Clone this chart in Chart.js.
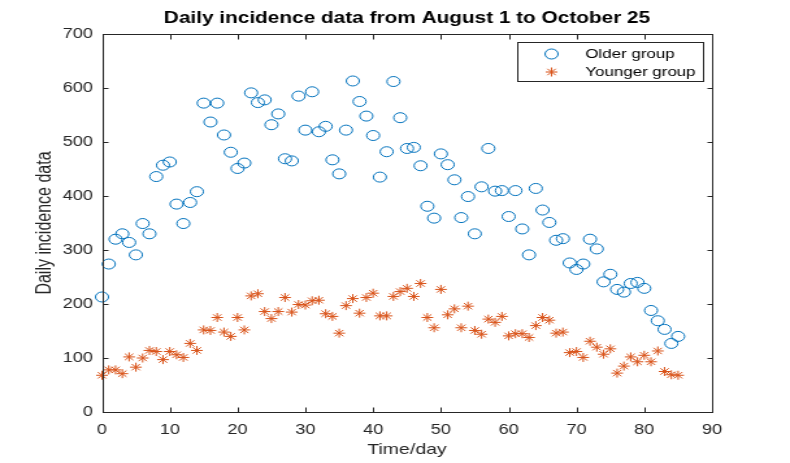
<!DOCTYPE html>
<html>
<head>
<meta charset="utf-8">
<script src="https://cdn.jsdelivr.net/npm/chart.js@4/dist/chart.umd.min.js"></script>
<style>
  html, body { margin: 0; padding: 0; background: #fff; overflow: hidden; }
  #wrap { width: 608px; height: 463px; transform: scaleX(1.2993); transform-origin: 0 0; }
</style>
</head>
<body>
<div id="wrap"><canvas id="incidenceChart" width="608" height="463"></canvas></div>
<script>
// days since August 1
const days = [0,1,2,3,4,5,6,7,8,9,10,11,12,13,14,15,16,17,18,19,20,21,22,23,24,25,26,27,28,29,
  30,31,32,33,34,35,36,37,38,39,40,41,42,43,44,45,46,47,48,49,50,51,52,53,54,55,56,57,58,59,
  60,61,62,63,64,65,66,67,68,69,70,71,72,73,74,75,76,77,78,79,80,81,82,83,84,85];

const olderGroup = [213,274,320,330,314,291,349,330,436,457,
  463,385,349,388,408,572,537,572,513,481,
  451,461,591,573,578,532,552,469,465,585,
  522,593,519,529,467,441,522,613,575,548,
  512,435,482,612,545,488,490,456,381,359,
  478,458,430,360,399,330,417,488,409,410,
  362,410,339,291,414,374,351,318,321,276,
  264,274,320,302,241,255,227,222,238,240,
  229,188,169,153,127,140];

const youngerGroup = [68,78,78,71,102,83,100,114,112,97,
  112,106,101,127,114,152,151,175,148,140,
  175,152,215,219,186,173,186,212,185,199,
  198,206,207,182,177,146,197,210,183,212,
  220,178,178,214,223,229,214,238,175,156,
  227,180,191,156,196,151,144,172,166,177,
  141,145,145,138,160,175,170,146,148,110,
  112,101,131,120,107,117,72,85,102,93,
  105,93,113,75,69,68];

const seriesNames = ['Older group', 'Younger group'];
const xTicks = [0, 10, 20, 30, 40, 50, 60, 70, 80, 90];
const yTicks = [0, 100, 200, 300, 400, 500, 600, 700];
const chartTitle = 'Daily incidence data from August 1 to October 25';

const FONT = "'Liberation Sans', Arial, Helvetica, sans-serif";
const AXIS = '#262626';
const BLUE = '#0072BD';
const ORANGE = '#D95319';

const toPoints = vals => vals.map((v, i) => ({ x: days[i], y: v }));

// box, inward ticks on all four sides, title and legend, MATLAB style
const axesBox = {
  id: 'axesBox',
  afterDraw(chart) {
    const { ctx, chartArea: a, scales: { x, y } } = chart;
    const L = Math.round(a.left) + 0.5, R = Math.round(a.right) + 0.5;
    const T = Math.round(a.top) + 0.5, B = Math.round(a.bottom) + 0.5;
    ctx.save();
    ctx.strokeStyle = AXIS;
    ctx.lineWidth = 1;
    ctx.strokeRect(L, T, R - L, B - T);
    ctx.beginPath();
    x.ticks.forEach(t => {
      const px = Math.round(x.getPixelForValue(t.value)) + 0.5;
      ctx.moveTo(px, B); ctx.lineTo(px, B - 5);
      ctx.moveTo(px, T); ctx.lineTo(px, T + 5);
    });
    y.ticks.forEach(t => {
      const py = Math.round(y.getPixelForValue(t.value)) + 0.5;
      ctx.moveTo(L, py); ctx.lineTo(L + 4, py);
      ctx.moveTo(R, py); ctx.lineTo(R - 4, py);
    });
    ctx.stroke();

    // title
    ctx.fillStyle = '#000';
    ctx.font = 'bold 16px ' + FONT;
    ctx.textAlign = 'center';
    ctx.textBaseline = 'middle';
    ctx.fillText(chartTitle, (a.left + a.right) / 2, 19);

    // legend
    const bx = Math.round(a.right) - 149.5, by = 42.5, bw = 143, bh = 39;
    ctx.fillStyle = '#fff';
    ctx.fillRect(bx, by, bw, bh);
    ctx.strokeStyle = AXIS;
    ctx.strokeRect(bx, by, bw, bh);
    const rows = [
      { label: seriesNames[0], color: BLUE, style: 'circle', r: 5, y: 54 },
      { label: seriesNames[1], color: ORANGE, style: 'star', r: 4.5, y: 72 }
    ];
    rows.forEach(row => {
      ctx.strokeStyle = row.color;
      ctx.fillStyle = 'rgba(0,0,0,0)';
      ctx.lineWidth = 1;
      Chart.helpers.drawPoint(ctx, { pointStyle: row.style, radius: row.r, borderWidth: 1, rotation: 0 }, bx + 26, row.y);
      ctx.fillStyle = '#000';
      ctx.font = '13px ' + FONT;
      ctx.textAlign = 'left';
      ctx.textBaseline = 'middle';
      ctx.fillText(row.label, bx + 52, row.y);
    });
    ctx.restore();
  }
};

const ctx = document.getElementById('incidenceChart').getContext('2d');

new Chart(ctx, {
  type: 'scatter',
  data: {
    datasets: [
      {
        label: seriesNames[0],
        data: toPoints(olderGroup),
        pointStyle: 'circle',
        pointRadius: 5,
        pointBorderWidth: 1,
        borderColor: BLUE,
        backgroundColor: 'rgba(0,0,0,0)',
        clip: false
      },
      {
        label: seriesNames[1],
        data: toPoints(youngerGroup),
        pointStyle: 'star',
        pointRadius: 4.5,
        pointBorderWidth: 1,
        borderColor: ORANGE,
        backgroundColor: ORANGE,
        clip: false
      }
    ]
  },
  options: {
    responsive: false,
    animation: false,
    layout: { padding: { top: 34, right: 60, left: 0, bottom: 0 } },
    plugins: {
      legend: { display: false },
      title: { display: false },
      tooltip: { enabled: false }
    },
    scales: {
      x: {
        type: 'linear',
        min: 0,
        max: 90,
        afterBuildTicks: s => { s.ticks = xTicks.map(v => ({ value: v })); },
        afterFit: s => { s.height = 51; },
        grid: { display: false, drawTicks: false },
        border: { display: false },
        ticks: {
          padding: 10,
          color: AXIS,
          font: { family: FONT, size: 14 },
          maxRotation: 0
        },
        title: {
          display: true,
          text: 'Time/day',
          color: AXIS,
          font: { family: FONT, size: 15 },
          padding: { top: 0, bottom: 4 }
        }
      },
      y: {
        type: 'linear',
        min: 0,
        max: 700,
        afterBuildTicks: s => { s.ticks = yTicks.map(v => ({ value: v })); },
        afterFit: s => { s.width = 78.5; },
        grid: { display: false, drawTicks: false },
        border: { display: false },
        ticks: {
          padding: 7,
          color: AXIS,
          font: { family: FONT, size: 14 }
        },
        title: {
          display: true,
          text: 'Daily incidence data',
          color: AXIS,
          font: { family: FONT, size: 16 },
          padding: { top: 25, bottom: 0 }
        }
      }
    }
  },
  plugins: [axesBox]
});
</script>
</body>
</html>
